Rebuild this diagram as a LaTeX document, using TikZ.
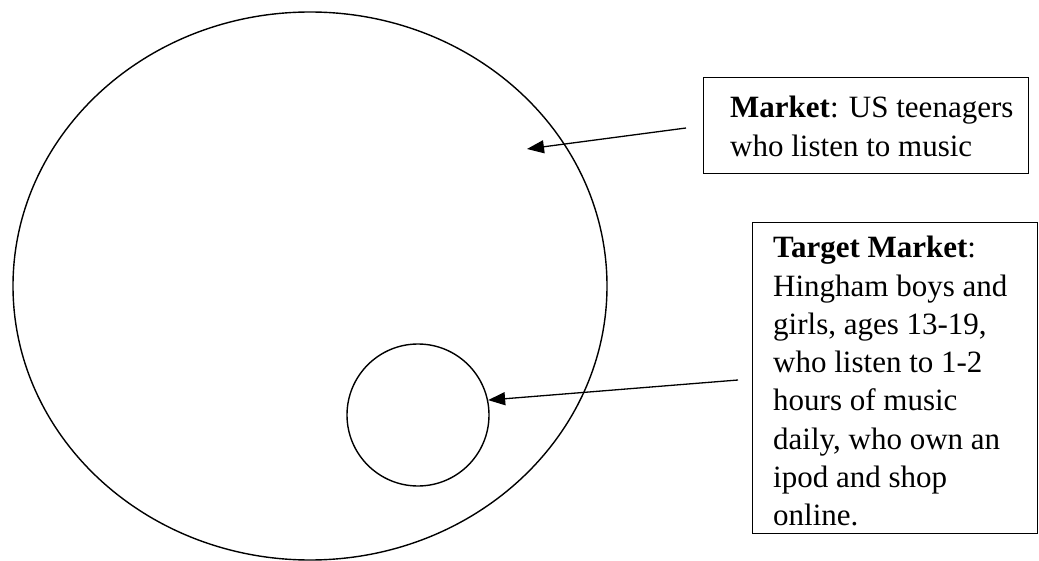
\documentclass[tikz,border=0pt]{standalone}
\usepackage{fontspec}
\setmainfont{Liberation Serif}
\usetikzlibrary{arrows.meta,shapes.geometric}
\begin{document}
\begin{tikzpicture}[x=1pt,y=-1pt,
  ring/.style={draw, line width=1.4pt, inner sep=0pt},
  frame/.style={draw, line width=1.4pt, anchor=north west, inner sep=0pt},
  label/.style={anchor=north west, inner sep=0pt, align=left, font=\fontsize{31}{38.3}\selectfont},
  pointer/.style={line width=1.3pt, -{Triangle[length=17pt,width=13pt]}}]
\useasboundingbox (0,0) rectangle (1039,561);
\node[ring, ellipse, minimum width=594pt, minimum height=548pt] (market) at (310,286) {};
\node[ring, circle, minimum size=142pt] (target) at (418,415) {};
\node[frame, minimum width=325pt, minimum height=96pt] (box1) at (703,77) {};
\node[frame, minimum width=285pt, minimum height=311pt] (box2) at (752,222) {};
\node[label] (text1) at (730,96) {\textbf{Market}: US teenagers\\who listen to music};
\node[label] (text2) at (773,236) {\textbf{Target Market}:\\Hingham boys and\\girls, ages 13-19,\\who listen to 1-2\\hours of music\\daily, who own an\\ipod and shop\\online.};
\coordinate (tail1) at (686,128);
\coordinate (tip1) at (527,149);
\coordinate (tail2) at (738,380);
\draw[pointer] (tail1) -- (tip1);
\draw[pointer] (tail2) -- (target.12);
\end{tikzpicture}
\end{document}
